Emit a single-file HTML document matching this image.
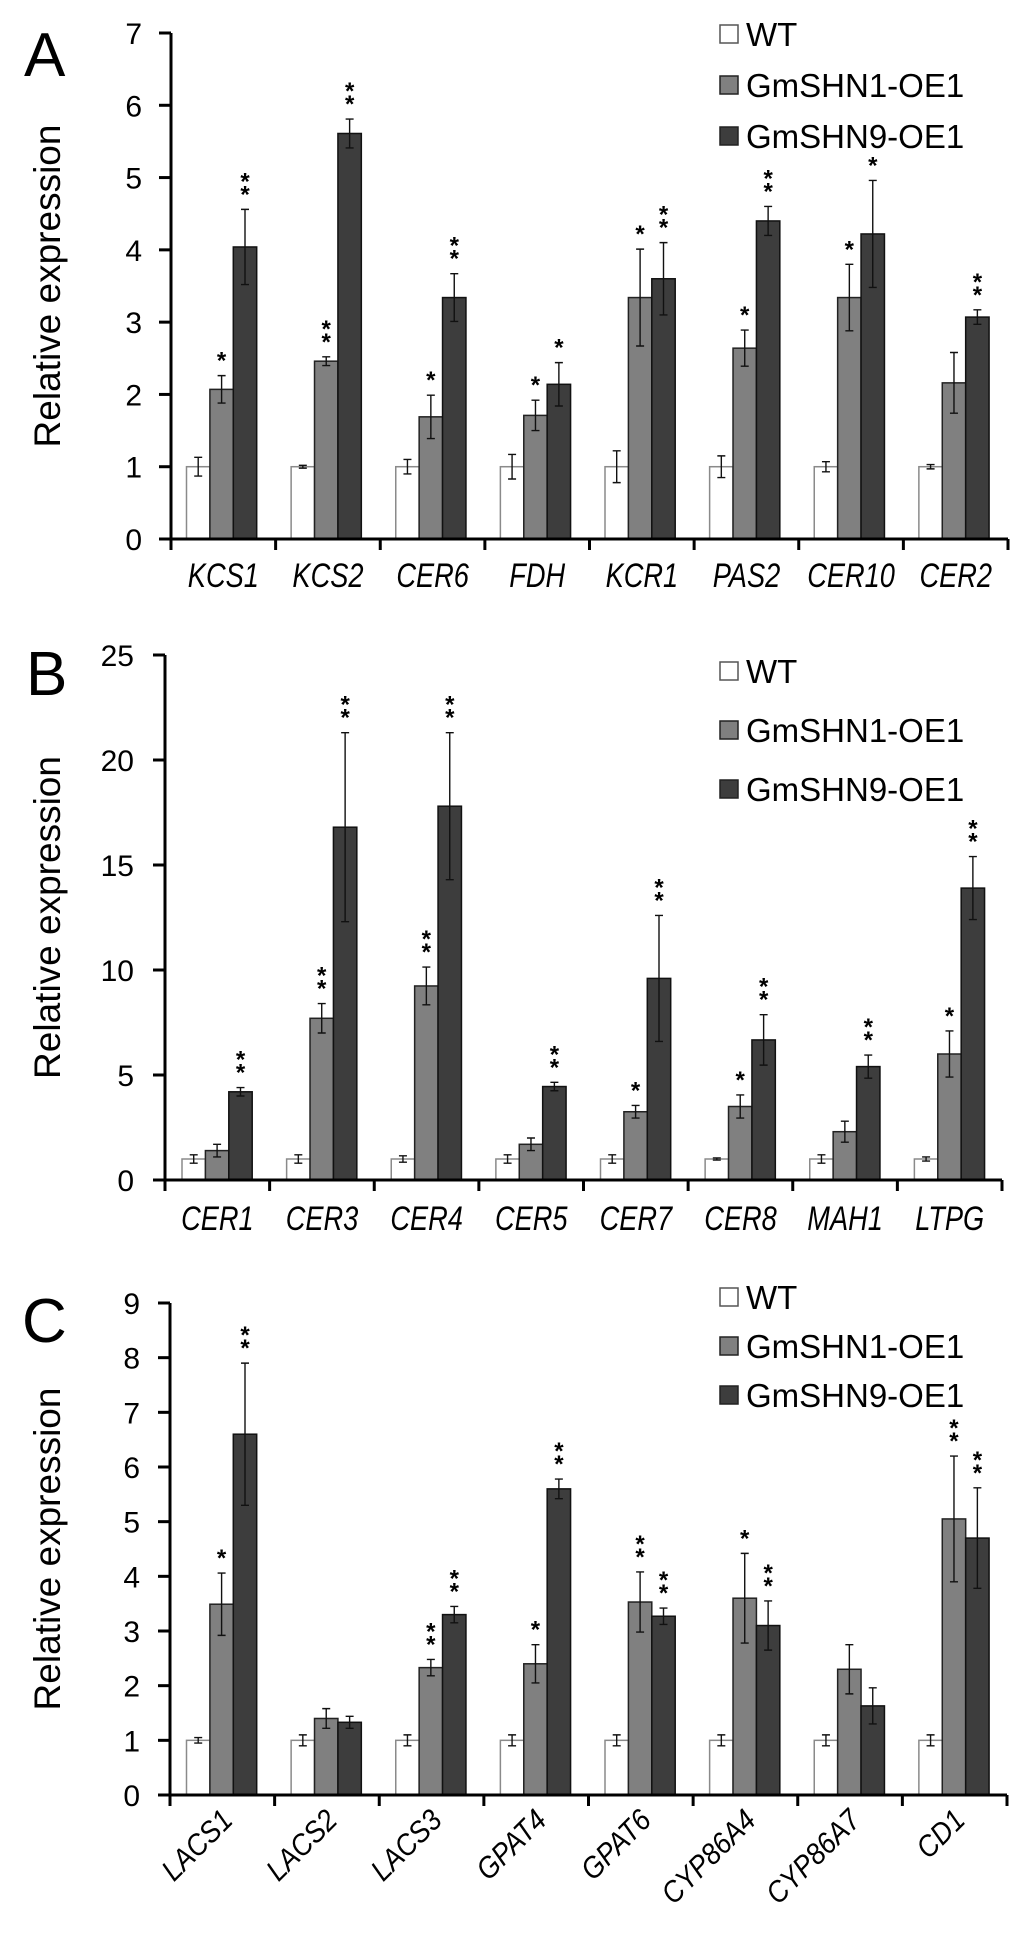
<!DOCTYPE html>
<html><head><meta charset="utf-8"><style>
html,body{margin:0;padding:0;background:#fff}
svg{display:block}
text{font-family:"Liberation Sans",Arial,sans-serif;fill:#000}
</style></head><body>
<svg id="fig" width="1024" height="1938" viewBox="0 0 1024 1938" xmlns="http://www.w3.org/2000/svg"></svg>
<script>
// ---- Panel A data ----
const genesA = ["KCS1","KCS2","CER6","FDH","KCR1","PAS2","CER10","CER2"];
const wtA    = [1,1,1,1,1,1,1,1];
const wtErrA = [0.13,0.02,0.1,0.17,0.22,0.15,0.07,0.03];
const s1A    = [2.07,2.46,1.69,1.71,3.34,2.64,3.34,2.16];
const s1ErrA = [0.19,0.06,0.3,0.21,0.67,0.25,0.46,0.42];
const s9A    = [4.04,5.61,3.34,2.14,3.6,4.4,4.22,3.07];
const s9ErrA = [0.52,0.2,0.33,0.3,0.5,0.2,0.74,0.1];
const star1A = ["*","**","*","*","*","*","*",""];
const star9A = ["**","**","**","*","**","**","*","**"];
const ticksA = [0,1,2,3,4,5,6,7];
// ---- Panel B data ----
const genesB = ["CER1","CER3","CER4","CER5","CER7","CER8","MAH1","LTPG"];
const wtB    = [1,1,1,1,1,1,1,1];
const wtErrB = [0.2,0.2,0.15,0.2,0.2,0.05,0.2,0.1];
const s1B    = [1.4,7.7,9.24,1.7,3.25,3.5,2.3,6.0];
const s1ErrB = [0.3,0.7,0.9,0.3,0.3,0.55,0.5,1.1];
const s9B    = [4.2,16.8,17.8,4.45,9.6,6.67,5.4,13.9];
const s9ErrB = [0.2,4.5,3.5,0.2,3.0,1.2,0.55,1.5];
const star1B = ["","**","**","","*","*","","*"];
const star9B = ["**","**","**","**","**","**","**","**"];
const ticksB = [0,5,10,15,20,25];
// ---- Panel C data ----
const genesC = ["LACS1","LACS2","LACS3","GPAT4","GPAT6","CYP86A4","CYP86A7","CD1"];
const wtC    = [1,1,1,1,1,1,1,1];
const wtErrC = [0.05,0.1,0.1,0.1,0.1,0.1,0.1,0.1];
const s1C    = [3.49,1.4,2.33,2.4,3.53,3.6,2.3,5.05];
const s1ErrC = [0.57,0.18,0.15,0.35,0.55,0.82,0.45,1.15];
const s9C    = [6.6,1.33,3.3,5.6,3.27,3.1,1.63,4.7];
const s9ErrC = [1.3,0.11,0.15,0.18,0.15,0.45,0.33,0.92];
const star1C = ["*","","**","*","**","*","","**"];
const star9C = ["**","","**","**","**","**","","**"];
const ticksC = [0,1,2,3,4,5,6,7,8,9];

const NS="http://www.w3.org/2000/svg";
const svg=document.getElementById('fig');
function mk(tag,attrs,parent){const e=document.createElementNS(NS,tag);for(const k in attrs)e.setAttribute(k,attrs[k]);(parent||svg).appendChild(e);return e;}

const COLORS=["#ffffff","#808080","#3d3d3d"];
const STROKES=["#8a8a8a","#222","#111"];

function panel(cfg){
  const g=mk('g',{});
  
  
  const y=v=>cfg.y0-(v/cfg.max)*(cfg.y0-cfg.yTop);
  const gw=(cfg.xEnd-cfg.axisX)/cfg.genes.length;
  // letter
  const L=mk('text',{x:cfg.letterX,y:cfg.letterY,'font-size':62},g);L.textContent=cfg.letter;
  
  
  // y title
  const yt=mk('text',{x:0,y:0,'font-size':37,'text-anchor':'middle',transform:`translate(${cfg.titleX},${(cfg.y0+cfg.yTop)/2}) rotate(-90)`},g);
  yt.textContent="Relative expression";
  
  
  // bars
  const series=[[cfg.wt,cfg.wtErr,null],[cfg.s1,cfg.s1Err,cfg.star1],[cfg.s9,cfg.s9Err,cfg.star9]];
  const names=['wt','gmshn1','gmshn9'];
  cfg.genes.forEach((gene,i)=>{
    const gx=cfg.axisX+i*gw+cfg.offset;
    series.forEach((s,j)=>{
      const v=s[0][i], e=s[1][i];
      const bx=gx+j*cfg.barW;
      const r=mk('rect',{x:bx,y:y(v),width:cfg.barW,height:cfg.y0-y(v),fill:COLORS[j],stroke:STROKES[j],'stroke-width':1.5},g);
      
      
      const cx=bx+cfg.barW/2, t=y(v+e), b=y(v-e);
      const eb=mk('path',{d:`M${cx},${t}V${b}M${cx-4},${t}H${cx+4}M${cx-4},${b}H${cx+4}`,stroke:'#111','stroke-width':1.4,fill:'none'},g);
      
      
      if(s[2]&&s[2][i]){
        for(let k=0;k<s[2][i].length;k++){
          const st=mk('text',{x:cx,y:t-7-k*13,'font-size':24,'text-anchor':'middle','font-weight':'bold'},g);
          st.textContent="*";
          
          
        }
      }
    });
    // x label
    const cxg=cfg.axisX+(i+0.5)*gw;
    let lab;
    if(cfg.rotate){
      lab=mk('text',{x:0,y:0,'font-size':30,'font-style':'italic','text-anchor':'end',transform:`translate(${cxg+12},${cfg.labelY}) rotate(-45) scale(0.9,1)`},g);
    }else{
      lab=mk('text',{x:0,y:0,'font-size':34,'font-style':'italic','text-anchor':'middle',transform:`translate(${cxg},${cfg.labelY}) scale(0.8,1)`},g);
    }
    lab.textContent=gene;
    
    
  });
  // axes
  const ax=mk('path',{d:`M${cfg.axisX},${cfg.yTop}V${cfg.y0}H${cfg.xEnd}`,stroke:'#000','stroke-width':3,fill:'none'},g);
  
  
  cfg.ticks.forEach(t=>{
    const ty=y(t);
    const tk=mk('line',{x1:cfg.axisX-12,x2:cfg.axisX,y1:ty,y2:ty,stroke:'#000','stroke-width':3},g);
    
    
    const tl=mk('text',{x:cfg.tickLabelX,y:ty+11,'font-size':30,'text-anchor':'end'},g);
    tl.textContent=t;
    
    
  });
  for(let i=0;i<=cfg.genes.length;i++){
    const tx=cfg.axisX+i*gw;
    const xt=mk('line',{x1:tx,x2:tx,y1:cfg.y0,y2:cfg.y0+11,stroke:'#000','stroke-width':3},g);
    
    
  }
  // legend
  const lg=mk('g',{},g);
  
  
  ["WT","GmSHN1-OE1","GmSHN9-OE1"].forEach((n,j)=>{
    const cy=cfg.legY+j*cfg.legGap;
    const sw=mk('rect',{x:720,y:cy-9,width:18,height:18,fill:COLORS[j],stroke:j==0?'#555':'#222','stroke-width':1.5},lg);
    
    
    const tx=mk('text',{x:746,y:cy+12,'font-size':33},lg);
    tx.textContent=n;
    
    
  });
}

panel({letter:"A",letterX:24,letterY:76,titleX:60,axisX:171,xEnd:1008,y0:539,yTop:33,max:7,ticks:ticksA,tickLabelX:142,
  genes:genesA,wt:wtA,wtErr:wtErrA,s1:s1A,s1Err:s1ErrA,s9:s9A,s9Err:s9ErrA,star1:star1A,star9:star9A,
  offset:15.5,barW:23.4,labelY:587,rotate:false,legY:34,legGap:51});
panel({letter:"B",letterX:26,letterY:695,titleX:60,axisX:165,xEnd:1002,y0:1180,yTop:655,max:25,ticks:ticksB,tickLabelX:134,
  genes:genesB,wt:wtB,wtErr:wtErrB,s1:s1B,s1Err:s1ErrB,s9:s9B,s9Err:s9ErrB,star1:star1B,star9:star9B,
  offset:17,barW:23.4,labelY:1230,rotate:false,legY:671,legGap:59});
panel({letter:"C",letterX:22,letterY:1342,titleX:60,axisX:170,xEnd:1007,y0:1795,yTop:1303,max:9,ticks:ticksC,tickLabelX:140,
  genes:genesC,wt:wtC,wtErr:wtErrC,s1:s1C,s1Err:s1ErrC,s9:s9C,s9Err:s9ErrC,star1:star1C,star9:star9C,
  offset:16.5,barW:23.4,labelY:1822,rotate:true,legY:1297,legGap:49});
</script>
</body></html>
